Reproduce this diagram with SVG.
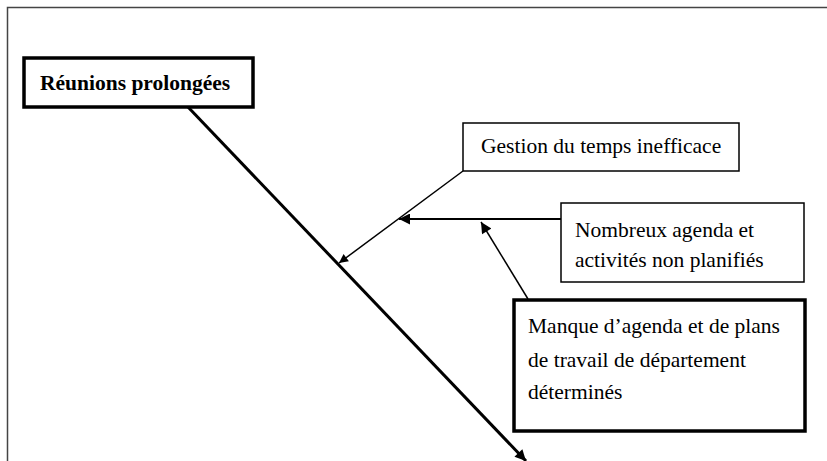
<svg xmlns="http://www.w3.org/2000/svg" width="827" height="461" viewBox="0 0 827 461">
<style>
.t{font-family:"Liberation Serif","Times New Roman",serif;font-size:21.5px;fill:#000}
.b{font-weight:bold}
.thin{fill:#fff;stroke:#000;stroke-width:1.5}
.thick{fill:#fff;stroke:#000;stroke-width:3.5}
.c{stroke:#000;fill:none}
</style>
<defs>
<marker id="ah" viewBox="0 0 10 10" refX="10" refY="5" markerWidth="13" markerHeight="11" orient="auto" markerUnits="userSpaceOnUse">
<path d="M0,0 L10,5 L0,10 z" fill="#000"/>
</marker>
<marker id="ahs" viewBox="0 0 10 10" refX="10" refY="5" markerWidth="10" markerHeight="9" orient="auto" markerUnits="userSpaceOnUse">
<path d="M0,0 L10,5 L0,10 z" fill="#000"/>
</marker>
</defs>
<rect width="827" height="461" fill="#fff"/>
<path d="M7.5,461 V7.5 H827" fill="none" stroke="#444" stroke-width="1.5"/>
<g id="connectors">
<line class="c" x1="188" y1="107" x2="526" y2="461" stroke-width="3" marker-end="url(#ah)"/>
<line class="c" x1="463" y1="171" x2="339" y2="263" stroke-width="1.5" marker-end="url(#ahs)"/>
<line class="c" x1="561" y1="219" x2="399" y2="219" stroke-width="2" marker-end="url(#ah)"/>
<line class="c" x1="528" y1="299" x2="481" y2="222" stroke-width="1.5" marker-end="url(#ah)"/>
</g>
<g id="reunions">
<rect class="thick" x="24" y="58" width="229" height="49"/>
<text class="t b" x="40" y="90">Réunions prolongées</text>
</g>
<g id="gestion">
<rect class="thin" x="463" y="123" width="276" height="48"/>
<text class="t" x="481" y="153">Gestion du temps inefficace</text>
</g>
<g id="nombreux">
<rect class="thin" x="561" y="203" width="243" height="79"/>
<text class="t" x="575" y="237">Nombreux agenda et</text>
<text class="t" x="575" y="267">activités non planifiés</text>
</g>
<g id="manque">
<rect class="thick" x="514" y="300" width="291" height="131"/>
<text class="t" x="528" y="333">Manque d’agenda et de plans</text>
<text class="t" x="528" y="367">de travail de département</text>
<text class="t" x="528" y="399">déterminés</text>
</g>
</svg>
